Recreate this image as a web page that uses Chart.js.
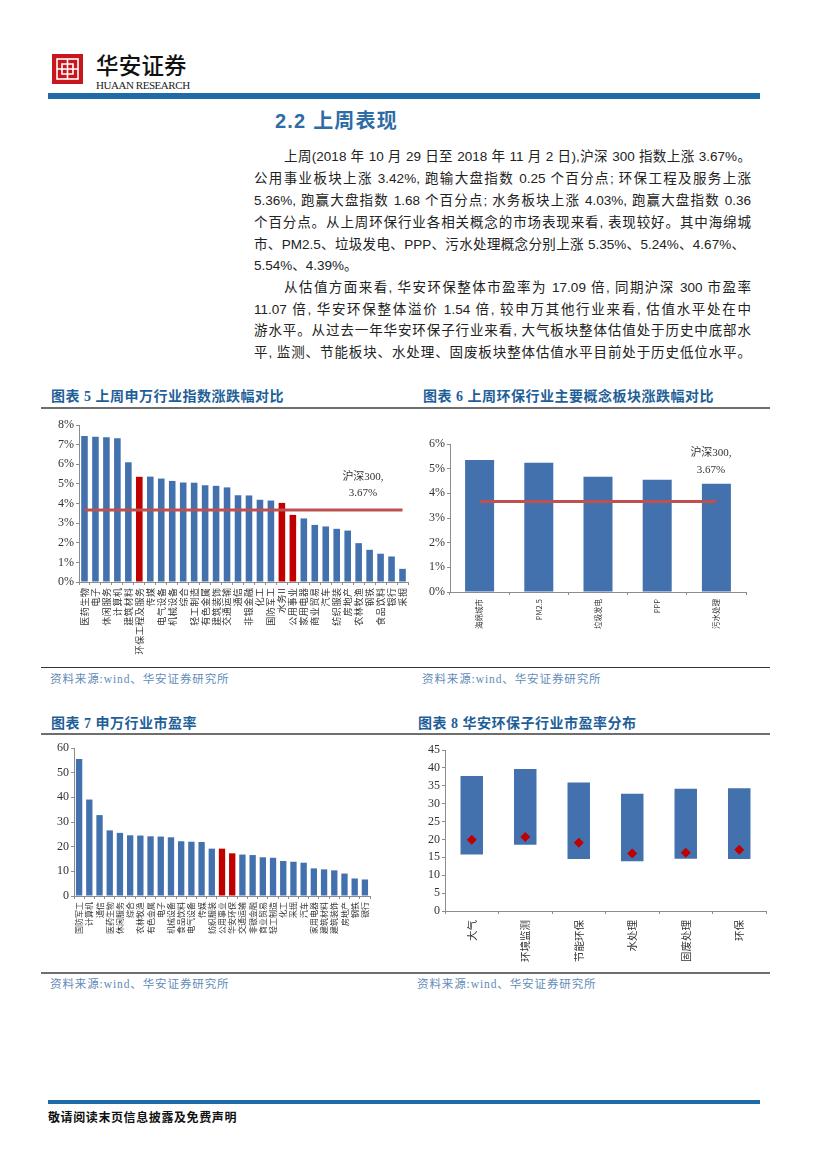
<!DOCTYPE html>
<html lang="zh">
<head>
<meta charset="UTF-8">
<title>上周表现</title>
<script src="https://cdn.jsdelivr.net/npm/chart.js"></script>
<style>
  html, body { margin: 0; padding: 0; background: #fff; }
  #page { position: relative; width: 827px; height: 1169px; overflow: hidden; font-family: "Liberation Sans", "Noto Sans CJK SC", sans-serif; }
  #page > * { position: absolute; }
  canvas { position: absolute; }
  .band { background: #1f6ba8; }
  .rule { background: #6e6e6e; }
  .line { left: 254px; width: 497px; font-size: 13.5px; line-height: 20px; color: #222; text-align: justify; text-align-last: justify; }
  .title { font-family: "Liberation Serif", "Noto Sans CJK SC", serif; font-weight: 700; font-size: 14px; line-height: 18px; color: #1f5f99; letter-spacing: .5px; white-space: nowrap; }
  .source { font-family: "Liberation Serif", "Noto Sans CJK SC", serif; font-size: 11.5px; line-height: 14px; color: #5f8bb8; letter-spacing: .9px; white-space: nowrap; }
  .note { font-family: "Liberation Serif", "Noto Sans CJK SC", serif; font-size: 11px; line-height: 16px; color: #333; text-align: center; width: 70px; }
</style>
</head>
<body>
<div id="page">
  <svg style="left:52px;top:54px" width="31" height="30" viewBox="0 0 31 30">
    <rect width="31" height="30" fill="#c8161d"/>
    <g fill="none" stroke="#fff" stroke-width="1.6">
      <rect x="5" y="5" width="21" height="20"/>
      <path d="M15.5 5V25M5 15H26M10 10H21V20H10Z"/>
    </g>
  </svg>
  <div style="left:96px;top:48px;font-size:22.5px;line-height:32px;letter-spacing:.2px;font-weight:500;color:#111;font-family:'Noto Sans CJK SC'">华安证券</div>
  <div style="left:96px;top:79px;font-size:11px;line-height:13px;letter-spacing:-.45px;color:#222;font-family:'Liberation Serif';white-space:nowrap">HUAAN RESEARCH</div>
  <div class="band" style="left:48px;top:93px;width:712px;height:6px"></div>
  <div style="left:275px;top:107px;font-size:20px;line-height:28px;letter-spacing:1.2px;font-weight:700;color:#2e6ca4;white-space:nowrap">2.2 上周表现</div>

  <div class="line" style="top:147px;left:284px;width:467px">上周(2018 年 10 月 29 日至 2018 年 11 月 2 日),沪深 300 指数上涨 3.67%。</div>
  <div class="line" style="top:169px">公用事业板块上涨 3.42%, 跑输大盘指数 0.25 个百分点; 环保工程及服务上涨</div>
  <div class="line" style="top:191px">5.36%, 跑赢大盘指数 1.68 个百分点; 水务板块上涨 4.03%, 跑赢大盘指数 0.36</div>
  <div class="line" style="top:213px">个百分点。从上周环保行业各相关概念的市场表现来看, 表现较好。其中海绵城</div>
  <div class="line" style="top:235px;width:491px">市、PM2.5、垃圾发电、PPP、污水处理概念分别上涨 5.35%、5.24%、4.67%、</div>
  <div class="line" style="top:256px;text-align-last:left">5.54%、4.39%。</div>
  <div class="line" style="top:278px;left:284px;width:467px">从估值方面来看, 华安环保整体市盈率为 17.09 倍, 同期沪深 300 市盈率</div>
  <div class="line" style="top:300px">11.07 倍, 华安环保整体溢价 1.54 倍, 较申万其他行业来看, 估值水平处在中</div>
  <div class="line" style="top:321px">游水平。从过去一年华安环保子行业来看, 大气板块整体估值处于历史中底部水</div>
  <div class="line" style="top:343px">平, 监测、节能板块、水处理、固废板块整体估值水平目前处于历史低位水平。</div>

  <div class="title" style="left:51px;top:388px">图表 5 上周申万行业指数涨跌幅对比</div>
  <div class="title" style="left:423px;top:388px">图表 6 上周环保行业主要概念板块涨跌幅对比</div>
  <div class="rule" style="left:41px;top:407px;width:729px;height:2px"></div>
  <div class="rule" style="left:41px;top:667px;width:729px;height:1px;background:#333"></div>
  <div class="source" style="left:50px;top:672px">资料来源:wind、华安证券研究所</div>
  <div class="source" style="left:422px;top:672px">资料来源:wind、华安证券研究所</div>

  <div class="title" style="left:51px;top:715px">图表 7 申万行业市盈率</div>
  <div class="title" style="left:418px;top:715px">图表 8 华安环保子行业市盈率分布</div>
  <div class="rule" style="left:41px;top:733px;width:729px;height:2px"></div>
  <div class="rule" style="left:41px;top:972px;width:729px;height:2px"></div>
  <div class="source" style="left:50px;top:977px">资料来源:wind、华安证券研究所</div>
  <div class="source" style="left:417px;top:977px">资料来源:wind、华安证券研究所</div>

  <div class="band" style="left:48px;top:1100px;width:712px;height:4px"></div>
  <div style="left:48px;top:1109px;font-size:12px;line-height:18px;font-weight:700;color:#111;letter-spacing:.6px;white-space:nowrap">敬请阅读末页信息披露及免费声明</div>

  <canvas id="c1"></canvas>
  <canvas id="c2"></canvas>
  <canvas id="c3"></canvas>
  <canvas id="c4"></canvas>

  <div class="note" style="left:328px;top:468px">沪深300,<br>3.67%</div>
  <div class="note" style="left:676px;top:444px;line-height:17px">沪深300,<br>3.67%</div>
</div>

<script>
// 图表 5
const industries5 = ['医药生物','电子','休闲服务','计算机','建筑材料','环保工程及服务','传媒','电气设备','机械设备','综合','轻工制造','有色金属','建筑装饰','交通运输','通信','非银金融','化工','国防军工','水务II','公用事业','家用电器','商业贸易','汽车','纺织服装','房地产','农林牧渔','钢铁','食品饮料','银行','采掘'];
const change5 = [7.44,7.40,7.37,7.32,6.10,5.36,5.37,5.27,5.15,5.07,5.06,4.93,4.90,4.82,4.42,4.41,4.19,4.15,4.03,3.42,3.24,2.91,2.83,2.71,2.62,1.98,1.64,1.44,1.30,0.67];
const red5 = ['环保工程及服务','水务II','公用事业'];
const hs300 = 3.67;

// 图表 6
const concepts6 = ['海绵城市','PM2.5','垃圾发电','PPP','污水处理'];
const change6 = [5.35,5.24,4.67,4.55,4.39];

// 图表 7
const industries7 = ['国防军工','计算机','通信','医药生物','休闲服务','综合','农林牧渔','有色金属','电子','机械设备','食品饮料','电气设备','传媒','纺织服装','公用事业','华安环保','交通运输','非银金融','商业贸易','轻工制造','化工','采掘','汽车','家用电器','建筑材料','建筑装饰','房地产','钢铁','银行'];
const pe7 = [55.5,39.1,32.8,26.6,25.6,24.6,24.5,24.2,24.1,23.8,22.2,22.0,21.9,19.2,19.2,17.3,16.8,16.6,15.7,15.5,14.2,13.9,13.5,11.2,10.8,10.4,9.1,7.1,6.7];
const red7 = ['公用事业','华安环保'];

// 图表 8
const sectors8 = ['大气','环境监测','节能环保','水处理','固废处理','环保'];
const low8 = [15.8,18.5,14.5,13.9,14.6,14.5];
const high8 = [37.7,39.7,35.9,32.8,34.2,34.3];
const now8 = [19.9,20.7,19.1,16.1,16.3,17.1];

const BLUE = '#4271ae', RED = '#c00000', AXIS = '#8c8c8c';

function makeChart(id, cfg) {
  const el = document.getElementById(id);
  const p = cfg.plot, pad = 8, leftW = 40, bottomH = cfg.bottomH;
  el.style.left = (p.l - leftW) + 'px';
  el.style.top = (p.t - pad) + 'px';
  el.style.width = (p.r - p.l + leftW + pad) + 'px';
  el.style.height = (p.b - p.t + pad + bottomH) + 'px';
  el.width = p.r - p.l + leftW + pad;
  el.height = p.b - p.t + pad + bottomH;
  const noPad = s => { s.paddingLeft = s.paddingRight = s.paddingTop = s.paddingBottom = 0; };
  return new Chart(el, {
    data: { labels: cfg.labels, datasets: cfg.datasets },
    options: {
      responsive: false,
      animation: false,
      layout: { padding: { top: pad, right: pad, left: 0, bottom: 0 } },
      plugins: { legend: { display: false }, tooltip: { enabled: false } },
      scales: {
        x: {
          grid: { drawOnChartArea: false, tickLength: 3, color: AXIS },
          border: { color: AXIS },
          ticks: { autoSkip: false, minRotation: 90, maxRotation: 90, padding: cfg.labelPad, color: '#333',
                   font: { family: '"Noto Sans CJK SC"', size: cfg.labelSize },
                   callback(v) {
                     const name = this.getLabelForValue(v);
                     return cfg.wide ? name.split('').join('\u200a') : name;
                   } },
          afterFit: s => { s.height = bottomH; noPad(s); }
        },
        y: {
          min: 0, max: cfg.max,
          grid: { drawOnChartArea: false, tickLength: 3, color: AXIS },
          border: { color: AXIS },
          ticks: { stepSize: cfg.step, padding: 2, color: '#333',
                   font: { family: '"Liberation Serif"', size: 12 },
                   callback: cfg.fmt },
          afterFit: s => { s.width = leftW; noPad(s); }
        }
      }
    }
  });
}

const pct = v => v + '%';
const hsLine = labels => ({
  type: 'line', data: labels.map(() => hs300), borderColor: '#c0504d', borderWidth: 3,
  pointRadius: 0, order: 0
});

makeChart('c1', {
  plot: { l: 79, r: 408, t: 425, b: 582 }, bottomH: 84, max: 8, step: 1, fmt: pct, labelSize: 9, labelPad: 3, wide: true,
  labels: industries5,
  datasets: [hsLine(industries5), {
    type: 'bar', data: change5, order: 1, categoryPercentage: 1, barPercentage: 0.6,
    backgroundColor: industries5.map(n => red5.includes(n) ? RED : BLUE)
  }]
});

makeChart('c2', {
  plot: { l: 450, r: 746, t: 444, b: 592 }, bottomH: 70, max: 6, step: 1, fmt: pct, labelSize: 7.5, labelPad: 4,
  labels: concepts6,
  datasets: [hsLine(concepts6), {
    type: 'bar', data: change6, order: 1, categoryPercentage: 1, barPercentage: 0.49,
    backgroundColor: BLUE
  }]
});

makeChart('c3', {
  plot: { l: 74, r: 370, t: 748, b: 896 }, bottomH: 70, max: 60, step: 10, labelSize: 8, labelPad: 3,
  labels: industries7,
  datasets: [{
    type: 'bar', data: pe7, categoryPercentage: 1, barPercentage: 0.62,
    backgroundColor: industries7.map(n => red7.includes(n) ? RED : BLUE)
  }]
});

makeChart('c4', {
  plot: { l: 445, r: 766, t: 750, b: 911 }, bottomH: 58, max: 45, step: 5, labelSize: 10.5, labelPad: 6,
  labels: sectors8,
  datasets: [{
    type: 'line', data: now8, showLine: false, order: 0, pointStyle: 'rectRot', pointRadius: 4.5,
    backgroundColor: RED, borderColor: RED
  }, {
    type: 'bar', data: low8.map((v, i) => [v, high8[i]]), order: 1,
    categoryPercentage: 1, barPercentage: 0.42, backgroundColor: BLUE
  }]
});
</script>
</body>
</html>
